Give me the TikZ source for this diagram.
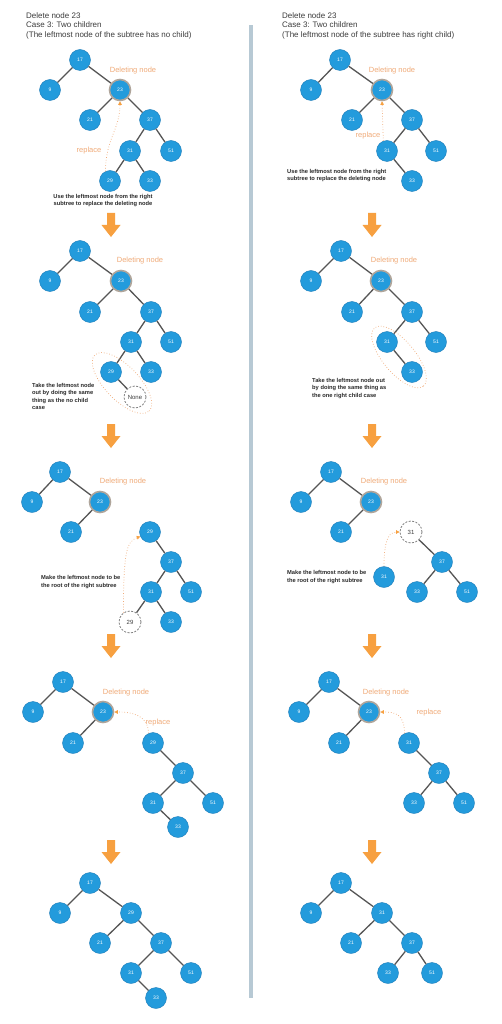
\documentclass[tikz,border=0pt]{standalone}
\usepackage{fontspec}
\setmainfont{Liberation Sans}
\usetikzlibrary{arrows.meta}
\definecolor{nodeblue}{RGB}{35,155,220}
\definecolor{nodeedge}{RGB}{30,125,185}
\definecolor{linkgray}{RGB}{85,85,85}
\definecolor{notecol}{RGB}{240,170,120}
\definecolor{arrowor}{RGB}{247,160,64}
\definecolor{barcol}{RGB}{183,201,212}
\definecolor{textcol}{RGB}{60,60,60}
\definecolor{halocol}{RGB}{175,165,155}
\tikzset{
  bn/.style={circle, fill=nodeblue, draw=nodeedge, line width=0.4pt, minimum size=21pt, inner sep=0pt, text=white, font=\fontsize{5}{6}\selectfont},
  delnode/.style={bn, draw=halocol, line width=1.6pt},
  ghost/.style={circle, draw=gray, dash pattern=on 2pt off 1.5pt, line width=0.8pt, minimum size=22pt, inner sep=0pt, text=textcol, font=\fontsize{6}{7}\selectfont},
  link/.style={draw=linkgray, line width=1.3pt},
  note/.style={text=notecol, font=\fontsize{7.5}{9}\selectfont, inner sep=0pt},
  desc/.style={text=textcol!70!black, font=\fontsize{5.75}{7.5}\selectfont\bfseries, inner sep=0pt, align=left},
  headtext/.style={text=textcol, font=\fontsize{8}{9.5}\selectfont, align=left, inner sep=0pt},
  dotarr/.style={draw=notecol, dotted, line width=0.7pt, -{Triangle[length=3.5pt,width=3.5pt,color=arrowor]}},
  ring/.style={draw=notecol, dotted, line width=0.7pt},
  bigarr/.style={fill=arrowor}
}
\newcommand{\orangedown}[2]{\fill[bigarr] (#1-4,#2) -- (#1+4,#2) -- (#1+4,#2+12) -- (#1+9.5,#2+12) -- (#1,#2+24) -- (#1-9.5,#2+12) -- (#1-4,#2+12) -- cycle;}
\begin{document}
\begin{tikzpicture}[x=1pt,y=-1pt]
\useasboundingbox (0,0) rectangle (502,1024);
\fill[white] (0,0) rectangle (502,1024);
\fill[barcol] (248.5,25) rectangle (252.5,998);

% ---------- titles ----------
\node[headtext, anchor=north west] (Lhead) at (26,12.5) {Delete node 23\\Case 3: Two children\\(The leftmost node of the subtree has no child)};
\node[headtext, anchor=north west] (Rhead) at (282,12.5) {Delete node 23\\Case 3: Two children\\(The leftmost node of the subtree has right child)};

% ================= LEFT 1 =================
\node[bn] (A17) at (80,60) {17};
\node[bn] (A9) at (50,90) {9};
\node[delnode] (A23) at (120,90) {23};
\node[bn] (A21) at (90,120) {21};
\node[bn] (A37) at (150,120) {37};
\node[bn] (A31) at (130,151) {31};
\node[bn] (A51) at (171,151) {51};
\node[bn] (A29) at (110,181) {29};
\node[bn] (A33) at (150,181) {33};
\draw[link] (A17)--(A9) (A17)--(A23) (A23)--(A21) (A23)--(A37) (A37)--(A31) (A37)--(A51) (A31)--(A29) (A31)--(A33);
\node[note] (Adel) at (133,71) {Deleting node};
\node[note] (Arep) at (89,151) {replace};
\draw[dotarr] (A29.115) .. controls +(0,-32) and +(0,28) .. (A23.south);
\node[desc, align=center] (Atxt) at (103,200.5) {Use the leftmost node from the right\\subtree to replace the deleting node};

% ================= RIGHT 1 =================
\node[bn] (B17) at (340,60) {17};
\node[bn] (B9) at (311,90) {9};
\node[delnode] (B23) at (382,90) {23};
\node[bn] (B21) at (352,120) {21};
\node[bn] (B37) at (412,120) {37};
\node[bn] (B31) at (387,151) {31};
\node[bn] (B51) at (436,151) {51};
\node[bn] (B33) at (412,181) {33};
\draw[link] (B17)--(B9) (B17)--(B23) (B23)--(B21) (B23)--(B37) (B37)--(B31) (B37)--(B51) (B31)--(B33);
\node[note] (Bdel) at (392,71) {Deleting node};
\node[note] (Brep) at (368,136) {replace};
\draw[dotarr] (B31.110) -- (B23.south);
\node[desc, anchor=west] (Btxt) at (287,175.5) {Use the leftmost node from the right\\subtree to replace the deleting node};

\orangedown{111}{213}
\orangedown{372}{213}

% ================= LEFT 2 =================
\node[bn] (C17) at (80,251) {17};
\node[bn] (C9) at (50,281) {9};
\node[delnode] (C23) at (121,281) {23};
\node[bn] (C21) at (90,312) {21};
\node[bn] (C37) at (151,312) {37};
\node[bn] (C31) at (131,342) {31};
\node[bn] (C51) at (171,342) {51};
\node[bn] (C29) at (111,372) {29};
\node[bn] (C33) at (151,372) {33};
\node[ghost] (CNone) at (135,397) {None};
\draw[link] (C17)--(C9) (C17)--(C23) (C23)--(C21) (C23)--(C37) (C37)--(C31) (C37)--(C51) (C31)--(C29) (C31)--(C33) (C29)--(CNone);
\draw[ring, rotate around={-46:(122,383)}] (122,383) ellipse [x radius=39pt, y radius=17pt];
\node[note] (Cdel) at (140,261) {Deleting node};
\node[desc, anchor=west] (Ctxt) at (32,396.5) {Take the leftmost node\\out by doing the same\\thing as the no child\\case};

% ================= RIGHT 2 =================
\node[bn] (D17) at (341,251) {17};
\node[bn] (D9) at (311,281) {9};
\node[delnode] (D23) at (381,281) {23};
\node[bn] (D21) at (352,312) {21};
\node[bn] (D37) at (412,312) {37};
\node[bn] (D31) at (387,342) {31};
\node[bn] (D51) at (436,342) {51};
\node[bn] (D33) at (412,372) {33};
\draw[link] (D17)--(D9) (D17)--(D23) (D23)--(D21) (D23)--(D37) (D37)--(D31) (D37)--(D51) (D31)--(D33);
\draw[ring, rotate around={-50:(399,357)}] (399,357) ellipse [x radius=38pt, y radius=16pt];
\node[note] (Ddel) at (394,261) {Deleting node};
\node[desc, anchor=west] (Dtxt) at (312,388.5) {Take the leftmost node out\\by doing the same thing as\\the one right child case};

\orangedown{111}{424}
\orangedown{372}{424}

% ================= LEFT 3 =================
\node[bn] (E17) at (60,472) {17};
\node[bn] (E9) at (32,502) {9};
\node[delnode] (E23) at (100,502) {23};
\node[bn] (E21) at (71,532) {21};
\node[bn] (E29) at (150,532) {29};
\node[bn] (E37) at (171,562) {37};
\node[bn] (E31) at (151,592) {31};
\node[bn] (E51) at (191,592) {51};
\node[ghost] (Eg29) at (130,622) {29};
\node[bn] (E33) at (171,622) {33};
\draw[link] (E17)--(E9) (E17)--(E23) (E23)--(E21) (E29)--(E37) (E37)--(E31) (E37)--(E51) (E31)--(Eg29) (E31)--(E33);
\node[note] (Edel) at (123,482) {Deleting node};
\draw[dotarr] (Eg29.125) .. controls +(0,-60) and +(-14,5) .. (E29.205);
\node[desc, anchor=west] (Etxt) at (41,582) {Make the leftmost node to be\\the root of the right subtree};

% ================= RIGHT 3 =================
\node[bn] (F17) at (331,472) {17};
\node[bn] (F9) at (301,502) {9};
\node[delnode] (F23) at (371,502) {23};
\node[bn] (F21) at (341,532) {21};
\node[ghost] (Fg31) at (411,532) {31};
\node[bn] (F37) at (442,562) {37};
\node[bn] (F33) at (417,592) {33};
\node[bn] (F51) at (467,592) {51};
\node[bn] (F31) at (384,577) {31};
\draw[link] (F17)--(F9) (F17)--(F23) (F23)--(F21) (Fg31)--(F37) (F37)--(F33) (F37)--(F51);
\node[note] (Fdel) at (384,482) {Deleting node};
\draw[dotarr] (F31.north) .. controls +(0,-28) and +(-10,0) .. (Fg31.west);
\node[desc, anchor=west] (Ftxt) at (287,577) {Make the leftmost node to be\\the root of the right subtree};

\orangedown{111}{634}
\orangedown{372}{634}

% ================= LEFT 4 =================
\node[bn] (G17) at (63,682) {17};
\node[bn] (G9) at (33,712) {9};
\node[delnode] (G23) at (103,712) {23};
\node[bn] (G21) at (73,743) {21};
\node[bn] (G29) at (153,743) {29};
\node[bn] (G37) at (183,773) {37};
\node[bn] (G31) at (153,803) {31};
\node[bn] (G51) at (213,803) {51};
\node[bn] (G33) at (178,827) {33};
\draw[link] (G17)--(G9) (G17)--(G23) (G23)--(G21) (G29)--(G37) (G37)--(G31) (G37)--(G51) (G31)--(G33);
\node[note] (Gdel) at (126,693) {Deleting node};
\node[note] (Grep) at (158,723) {replace};
\draw[dotarr] (G29.115) .. controls +(0,-20) and +(14,0) .. (G23.east);

% ================= RIGHT 4 =================
\node[bn] (H17) at (329,682) {17};
\node[bn] (H9) at (299,712) {9};
\node[delnode] (H23) at (369,712) {23};
\node[bn] (H21) at (339,743) {21};
\node[bn] (H31) at (409,743) {31};
\node[bn] (H37) at (439,773) {37};
\node[bn] (H33) at (414,803) {33};
\node[bn] (H51) at (464,803) {51};
\draw[link] (H17)--(H9) (H17)--(H23) (H23)--(H21) (H31)--(H37) (H37)--(H33) (H37)--(H51);
\node[note] (Hdel) at (386,693) {Deleting node};
\node[note] (Hrep) at (429,713) {replace};
\draw[dotarr] (H31.115) .. controls +(0,-20) and +(14,0) .. (H23.east);

\orangedown{111}{840}
\orangedown{372}{840}

% ================= LEFT 5 =================
\node[bn] (I17) at (90,883) {17};
\node[bn] (I9) at (60,913) {9};
\node[bn] (I29) at (131,913) {29};
\node[bn] (I21) at (100,943) {21};
\node[bn] (I37) at (161,943) {37};
\node[bn] (I31) at (131,973) {31};
\node[bn] (I51) at (191,973) {51};
\node[bn] (I33) at (156,998) {33};
\draw[link] (I17)--(I9) (I17)--(I29) (I29)--(I21) (I29)--(I37) (I37)--(I31) (I37)--(I51) (I31)--(I33);

% ================= RIGHT 5 =================
\node[bn] (J17) at (341,883) {17};
\node[bn] (J9) at (311,913) {9};
\node[bn] (J31) at (382,913) {31};
\node[bn] (J21) at (351,943) {21};
\node[bn] (J37) at (412,943) {37};
\node[bn] (J33) at (388,973) {33};
\node[bn] (J51) at (432,973) {51};
\draw[link] (J17)--(J9) (J17)--(J31) (J31)--(J21) (J31)--(J37) (J37)--(J33) (J37)--(J51);
\end{tikzpicture}
\end{document}
